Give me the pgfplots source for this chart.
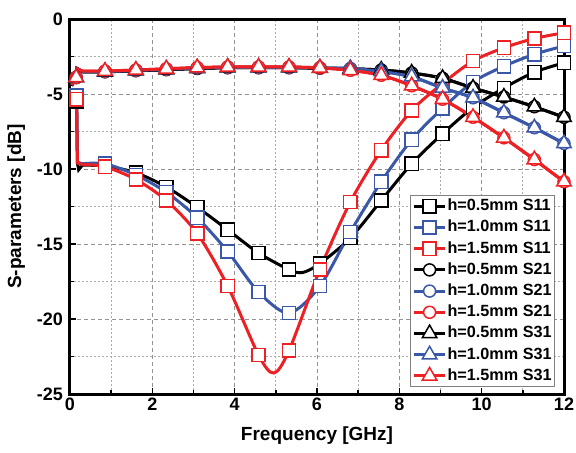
\documentclass[border=0pt]{standalone}
\usepackage{fontspec}
\setmainfont{Liberation Sans}
\usepackage{pgfplots}
\pgfplotsset{compat=1.18}
\definecolor{blueC}{RGB}{59,87,167}
\definecolor{redC}{RGB}{237,32,36}
\pgfplotsset{
  base/.style={line width=1.5pt, mark options={fill=white, line width=0.75pt, solid}},
  s11/.style={base, mark=square*, mark size=3.3pt},
  s21/.style={base, mark=*, mark size=3pt},
  s31/.style={base, mark=triangle*, mark size=4.2pt},
}
\begin{document}
\begin{tikzpicture}
\begin{axis}[
  scale only axis, width=247pt, height=187.5pt,
  xmin=0, xmax=12, ymin=-25, ymax=0,
  xtick={0,2,...,12}, ytick={-25,-20,...,0},
  minor x tick num=1, minor y tick num=1,
  xtick pos=bottom, ytick pos=left, tick align=inside,
  major tick length=3pt, minor tick length=2pt,
  tick style={black, line width=0.8pt},
  axis line style={line width=1.5pt},
  grid=both,
  major grid style={gray!85, line width=0.5pt, dash pattern=on 2pt off 1.5pt},
  minor grid style={gray!65, line width=0.5pt, dash pattern=on 1pt off 1pt},
  clip=false,
  /pgf/number format/assume math mode=true,
  tick label style={font=\fontsize{9}{10}\selectfont\bfseries},
  xticklabel style={inner sep=2pt},
  xlabel={Frequency [GHz]}, ylabel={S-parameters [dB]},
  every axis x label/.style={at={(axis description cs:0.5,-0.112)}, anchor=center, font=\fontsize{9.5}{11}\selectfont\bfseries},
  every axis y label/.style={at={(axis description cs:-0.109,0.5)}, anchor=center, rotate=90, font=\fontsize{9.5}{11}\selectfont\bfseries},
  legend cell align=left,
  legend style={at={(0.982,0.019)}, anchor=south east, draw=gray, line width=0.5pt,
    font=\fontsize{8.1}{9}\selectfont\bfseries, inner sep=1pt, row sep=2.1pt,
    nodes={inner sep=0.5pt, text height=6pt, text depth=1.5pt}},
  legend image code/.code={\draw[mark repeat=2,mark phase=2,#1] plot coordinates {(0pt,0pt) (7.75pt,0pt) (15.5pt,0pt)};},
]
\coordinate (sw) at (rel axis cs:0,0);
\coordinate (ne) at (rel axis cs:1,1);
% ---------- S11 ----------
\addplot[s11, black, mark indices={2}, forget plot] coordinates {(0.04,-5.0) (0.16,-5.5) (0.18,-9.6) (0.21,-10.05) (0.3,-9.75)};
\addplot[s11, black, smooth, forget plot, mark indices={2,3,4,5,6,7,8,10,11,12,13,14,15,16,17,18}] coordinates {
 (0.3,-9.75) (0.85,-9.8) (1.6,-10.25) (2.34,-11.2) (3.09,-12.55) (3.83,-14.05) (4.58,-15.6) (5.32,-16.7) (5.65,-16.9)
 (6.07,-16.3) (6.81,-14.6) (7.56,-12.1) (8.3,-9.65) (9.05,-7.65) (9.79,-5.9) (10.54,-4.6) (11.28,-3.55) (12,-2.92)};
\addplot[s11, blueC, mark indices={2}, forget plot] coordinates {(0.04,-4.8) (0.16,-5.1) (0.18,-9.55) (0.3,-9.65)};
\addplot[s11, blueC, smooth, forget plot, mark indices={2,3,4,5,6,7,8,9,10,11,12,13,14,15,16,17}] coordinates {
 (0.3,-9.65) (0.85,-9.65) (1.6,-10.4) (2.34,-11.55) (3.09,-13.25) (3.83,-15.5) (4.58,-18.2) (5.32,-19.6)
 (6.07,-17.8) (6.81,-14.2) (7.56,-10.85) (8.3,-8.05) (9.05,-5.95) (9.79,-4.2) (10.54,-3.15) (11.28,-2.35) (12,-1.8)};
\addplot[s11, redC, mark indices={2}, forget plot] coordinates {(0.04,-4.95) (0.16,-5.35) (0.18,-9.6) (0.3,-9.7)};
\addplot[s11, redC, smooth, forget plot, mark indices={2,3,4,5,6,7,9,10,11,12,13,14,15,16,17,18}] coordinates {
 (0.3,-9.7) (0.85,-9.85) (1.6,-10.7) (2.34,-12.1) (3.09,-14.3) (3.83,-17.8) (4.58,-22.4) (4.95,-23.6) (5.32,-22.1)
 (6.07,-16.7) (6.81,-12.2) (7.56,-8.75) (8.3,-6.1) (9.05,-4.3) (9.79,-2.8) (10.54,-1.92) (11.28,-1.3) (12,-0.92)};
% ---------- S21 ----------
\addplot[s21, black, mark indices={2}, forget plot] coordinates {(0.04,-4.45) (0.15,-3.9) (0.17,-3.3) (0.3,-3.52)};
\addplot[s21, black, smooth, forget plot, mark indices={2,3,4,5,6,7,8,9,10,11,12,13,14,15,16,17}] coordinates {
 (0.3,-3.52) (0.85,-3.52) (1.6,-3.45) (2.34,-3.38) (3.09,-3.3) (3.83,-3.25) (4.58,-3.25) (5.32,-3.25)
 (6.07,-3.28) (6.81,-3.32) (7.56,-3.4) (8.3,-3.6) (9.05,-3.95) (9.79,-4.6) (10.54,-5.2) (11.28,-5.85) (12,-6.55)};
\addplot[s21, blueC, mark indices={2}, forget plot] coordinates {(0.04,-4.4) (0.15,-3.9) (0.17,-3.3) (0.3,-3.5)};
\addplot[s21, blueC, smooth, forget plot, mark indices={2,3,4,5,6,7,8,9,10,11,12,13,14,15,16,17}] coordinates {
 (0.3,-3.5) (0.85,-3.5) (1.6,-3.43) (2.34,-3.35) (3.09,-3.27) (3.83,-3.22) (4.58,-3.22) (5.32,-3.22)
 (6.07,-3.26) (6.81,-3.3) (7.56,-3.5) (8.3,-3.85) (9.05,-4.6) (9.79,-5.25) (10.54,-6.25) (11.28,-7.25) (12,-8.3)};
\addplot[s21, redC, mark indices={2}, forget plot] coordinates {(0.04,-4.4) (0.15,-3.9) (0.17,-3.3) (0.3,-3.48)};
\addplot[s21, redC, smooth, forget plot, mark indices={2,3,4,5,6,7,8,9,10,11,12,13,14,15,16,17}] coordinates {
 (0.3,-3.48) (0.85,-3.47) (1.6,-3.4) (2.34,-3.32) (3.09,-3.24) (3.83,-3.2) (4.58,-3.2) (5.32,-3.2)
 (6.07,-3.26) (6.81,-3.42) (7.56,-3.75) (8.3,-4.45) (9.05,-5.35) (9.79,-6.55) (10.54,-7.92) (11.28,-9.37) (12,-10.85)};
% ---------- S31 ----------
\addplot[s31, black, mark indices={2}, forget plot] coordinates {(0.04,-4.45) (0.15,-3.9) (0.17,-3.3) (0.3,-3.52)};
\addplot[s31, black, smooth, forget plot, mark indices={2,3,4,5,6,7,8,9,10,11,12,13,14,15,16,17}] coordinates {
 (0.3,-3.52) (0.85,-3.52) (1.6,-3.45) (2.34,-3.38) (3.09,-3.3) (3.83,-3.25) (4.58,-3.25) (5.32,-3.25)
 (6.07,-3.28) (6.81,-3.32) (7.56,-3.4) (8.3,-3.6) (9.05,-3.95) (9.79,-4.6) (10.54,-5.2) (11.28,-5.85) (12,-6.55)};
\addplot[s31, blueC, mark indices={2}, forget plot] coordinates {(0.04,-4.4) (0.15,-3.9) (0.17,-3.3) (0.3,-3.5)};
\addplot[s31, blueC, smooth, forget plot, mark indices={2,3,4,5,6,7,8,9,10,11,12,13,14,15,16,17}] coordinates {
 (0.3,-3.5) (0.85,-3.5) (1.6,-3.43) (2.34,-3.35) (3.09,-3.27) (3.83,-3.22) (4.58,-3.22) (5.32,-3.22)
 (6.07,-3.26) (6.81,-3.3) (7.56,-3.5) (8.3,-3.85) (9.05,-4.6) (9.79,-5.25) (10.54,-6.25) (11.28,-7.25) (12,-8.3)};
\addplot[s31, redC, mark indices={2}, forget plot] coordinates {(0.04,-4.4) (0.15,-3.9) (0.17,-3.3) (0.3,-3.48)};
\addplot[s31, redC, smooth, forget plot, mark indices={2,3,4,5,6,7,8,9,10,11,12,13,14,15,16,17}] coordinates {
 (0.3,-3.48) (0.85,-3.47) (1.6,-3.4) (2.34,-3.32) (3.09,-3.24) (3.83,-3.2) (4.58,-3.2) (5.32,-3.2)
 (6.07,-3.26) (6.81,-3.42) (7.56,-3.75) (8.3,-4.45) (9.05,-5.35) (9.79,-6.55) (10.54,-7.92) (11.28,-9.37) (12,-10.85)};
% ---------- legend ----------
\addlegendimage{s11, black}\addlegendentry{h=0.5mm S11}
\addlegendimage{s11, blueC}\addlegendentry{h=1.0mm S11}
\addlegendimage{s11, redC}\addlegendentry{h=1.5mm S11}
\addlegendimage{s21, black}\addlegendentry{h=0.5mm S21}
\addlegendimage{s21, blueC}\addlegendentry{h=1.0mm S21}
\addlegendimage{s21, redC}\addlegendentry{h=1.5mm S21}
\addlegendimage{s31, black}\addlegendentry{h=0.5mm S31}
\addlegendimage{s31, blueC}\addlegendentry{h=1.0mm S31}
\addlegendimage{s31, redC}\addlegendentry{h=1.5mm S31}
\end{axis}
\pgfresetboundingbox
\path ([xshift=-35pt,yshift=-29pt]sw) rectangle ([xshift=6pt,yshift=9.5pt]ne);
\end{tikzpicture}
\end{document}
